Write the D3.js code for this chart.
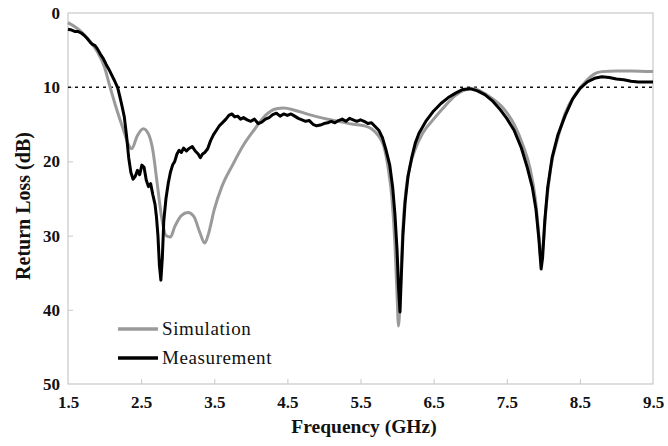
<!DOCTYPE html>
<html>
<head>
<meta charset="utf-8">
<script src="https://cdn.jsdelivr.net/npm/d3@7"></script>
<style>
  html, body { margin: 0; padding: 0; background: #fff; }
  svg { display: block; }
  svg text { font-family: "Liberation Serif", "DejaVu Serif", serif !important; }
</style>
</head>
<body>
<svg id="chart" width="668" height="446"></svg>
<script>
// Return loss (dB) versus frequency (GHz)
const simFreq = [1.5,1.6,1.7,1.8,1.9,2.0,2.07,2.15,2.25,2.33,2.37,2.45,2.53,2.6,2.66,2.72,2.78,2.84,2.9,2.96,3.05,3.14,3.22,3.3,3.37,3.42,3.5,3.6,3.75,3.9,4.05,4.2,4.35,4.45,4.6,4.8,5.0,5.2,5.4,5.55,5.65,5.75,5.82,5.88,5.93,5.97,6.0,6.02,6.05,6.08,6.12,6.18,6.25,6.35,6.5,6.65,6.8,6.95,7.05,7.15,7.3,7.45,7.6,7.72,7.82,7.89,7.94,7.97,8.0,8.04,8.1,8.2,8.3,8.45,8.6,8.7,8.8,9.0,9.2,9.5];
const simLoss = [1.3,1.9,2.7,3.8,5.2,7.3,9.8,12.5,15.5,17.8,18.3,16.5,15.6,16.3,18.5,23,27.5,30,30.2,28.8,27.3,26.9,27.4,29.5,31,29.8,26.5,23.5,20.5,17.8,15.7,13.8,12.9,12.8,13.1,13.7,14.2,14.6,15.0,15.2,15.6,16.6,18,21,25,31,38,42.2,36,29,24,20.5,18.3,16.2,14.3,12.6,11.1,10.3,10.2,10.6,11.5,12.8,15,17.8,21,25,30,33.3,31,26,21,16.8,13.5,10.8,9.0,8.2,7.9,7.8,7.8,7.9];

const measFreq = [1.5,1.55,1.6,1.64,1.68,1.72,1.76,1.8,1.83,1.87,1.9,1.94,1.98,2.02,2.06,2.1,2.14,2.18,2.21,2.24,2.27,2.3,2.33,2.36,2.39,2.42,2.45,2.48,2.51,2.54,2.57,2.6,2.63,2.66,2.69,2.71,2.73,2.75,2.77,2.79,2.81,2.84,2.87,2.9,2.93,2.96,2.99,3.02,3.05,3.08,3.12,3.15,3.2,3.24,3.28,3.31,3.34,3.37,3.41,3.45,3.49,3.53,3.57,3.62,3.66,3.7,3.74,3.78,3.82,3.86,3.9,3.95,4.0,4.05,4.1,4.15,4.2,4.25,4.3,4.35,4.4,4.45,4.5,4.55,4.6,4.65,4.7,4.75,4.8,4.85,4.9,4.95,5.0,5.05,5.1,5.15,5.2,5.25,5.3,5.35,5.4,5.45,5.5,5.55,5.6,5.65,5.7,5.75,5.8,5.85,5.9,5.94,5.97,6.0,6.02,6.04,6.06,6.08,6.11,6.15,6.2,6.25,6.3,6.4,6.5,6.6,6.7,6.8,6.9,7.0,7.1,7.2,7.3,7.4,7.5,7.6,7.7,7.78,7.85,7.9,7.94,7.97,7.99,8.02,8.06,8.12,8.2,8.3,8.4,8.5,8.6,8.7,8.8,8.9,9.0,9.1,9.2,9.3,9.4,9.5];
const measLoss = [2.2,2.3,2.5,2.5,2.7,3.0,3.4,3.9,4.2,4.4,4.8,5.5,6.1,6.9,7.6,8.4,9.2,10.1,11.3,12.6,14.0,16.5,19.5,21.5,22.4,22.0,21.2,21.8,20.5,20.8,22.5,23.4,23.0,24.5,25.8,27.5,30,34,36,33,28,25,23,21.5,20.5,20.0,19.0,18.5,18.8,18.2,18.6,18.3,18.0,18.6,19.0,19.5,19.0,18.8,18.3,17.2,16.4,15.8,15.2,14.7,14.3,13.8,13.6,14.0,13.9,14.3,14.1,14.4,14.6,14.3,14.9,14.7,14.3,14.1,13.7,13.5,13.9,13.6,13.8,13.6,13.9,14.2,14.4,14.6,14.5,15.0,15.2,15.1,14.9,14.8,14.6,14.8,14.5,14.3,14.6,14.2,14.4,14.6,14.4,14.6,14.9,14.8,15.3,15.8,16.8,18.5,20.5,23.5,27,32,37,40.3,35,30,25.5,22,19.5,17.5,16.2,14.5,13.2,12.2,11.4,10.8,10.3,10.2,10.5,11.0,11.8,12.9,14.2,15.8,18.2,20.8,23.5,26.5,30.5,34.5,33,28,23.5,19.5,16.4,13.8,11.6,10.2,9.3,8.8,8.6,8.7,8.9,9.0,9.2,9.3,9.3,9.3];

const xTicks = [1.5,2.5,3.5,4.5,5.5,6.5,7.5,8.5,9.5];
const yTicks = [0,10,20,30,40,50];
const threshold = 10;
const seriesNames = ["Simulation","Measurement"];

const serif = "Liberation Serif";
const svg = d3.select("#chart");
const plotLeft = 68, plotRight = 653, plotTop = 13, plotBottom = 384;

const x = d3.scaleLinear().domain([1.5, 9.5]).range([plotLeft, plotRight]);
const y = d3.scaleLinear().domain([0, 50]).range([plotTop, plotBottom]);

// plot frame
svg.append("rect")
  .attr("x", plotLeft).attr("y", plotTop)
  .attr("width", plotRight - plotLeft).attr("height", plotBottom - plotTop)
  .attr("fill", "none").attr("stroke", "#c8c8c8").attr("stroke-width", 1.2);

// axes with inward ticks
const yAxis = svg.append("g").attr("transform", `translate(${plotLeft},0)`)
  .call(d3.axisLeft(y).tickValues(yTicks).tickSize(-5).tickPadding(8).tickFormat(d3.format("d")))
  .attr("font-family", serif);
yAxis.select(".domain").remove();
yAxis.selectAll(".tick line").attr("stroke", "#c8c8c8")
  .filter(d => d === 0 || d === 50).remove();
yAxis.selectAll("text").attr("font-size", 17).attr("font-weight", "bold").attr("fill", "#111");

const xAxis = svg.append("g").attr("transform", `translate(0,${plotBottom})`)
  .call(d3.axisBottom(x).tickValues(xTicks).tickSize(-5).tickPadding(12).tickFormat(d3.format(".1f")))
  .attr("font-family", serif);
xAxis.select(".domain").remove();
xAxis.selectAll(".tick line").attr("stroke", "#c8c8c8")
  .filter(d => d === 1.5 || d === 9.5).remove();
xAxis.selectAll("text").attr("font-size", 17).attr("font-weight", "bold").attr("fill", "#111");

// 10 dB reference line
svg.append("line")
  .attr("x1", plotLeft).attr("x2", plotRight)
  .attr("y1", y(threshold)).attr("y2", y(threshold))
  .attr("stroke", "#111").attr("stroke-width", 1.6)
  .attr("stroke-dasharray", "3,4");

const sim = simFreq.map((f, i) => [f, simLoss[i]]);
const meas = measFreq.map((f, i) => [f, measLoss[i]]);

svg.append("path").datum(sim)
  .attr("fill", "none").attr("stroke", "#9a9a9a").attr("stroke-width", 3)
  .attr("stroke-linejoin", "round")
  .attr("d", d3.line().x(d => x(d[0])).y(d => y(d[1])).curve(d3.curveMonotoneX));

svg.append("path").datum(meas)
  .attr("fill", "none").attr("stroke", "#000").attr("stroke-width", 3)
  .attr("stroke-linejoin", "round")
  .attr("d", d3.line().x(d => x(d[0])).y(d => y(d[1])));

// legend
const legend = svg.append("g");
const legendColors = ["#9a9a9a", "#000"];
seriesNames.forEach((name, i) => {
  const ly = 329 + i * 29;
  legend.append("line").attr("x1", 118).attr("x2", 158).attr("y1", ly).attr("y2", ly)
    .attr("stroke", legendColors[i]).attr("stroke-width", 3.5);
  legend.append("text").attr("x", 162).attr("y", ly + 6)
    .attr("font-size", 19).attr("fill", "#111").attr("letter-spacing", 0.6).text(name);
});

// axis titles
svg.append("text").attr("x", 364).attr("y", 433)
  .attr("text-anchor", "middle").attr("font-size", 19.5).attr("font-weight", "bold")
  .attr("fill", "#111").text("Frequency (GHz)");
svg.append("text").attr("transform", `translate(30,206) rotate(-90)`)
  .attr("text-anchor", "middle").attr("font-size", 20).attr("font-weight", "bold")
  .attr("fill", "#111").text("Return Loss (dB)");
</script>
</body>
</html>
